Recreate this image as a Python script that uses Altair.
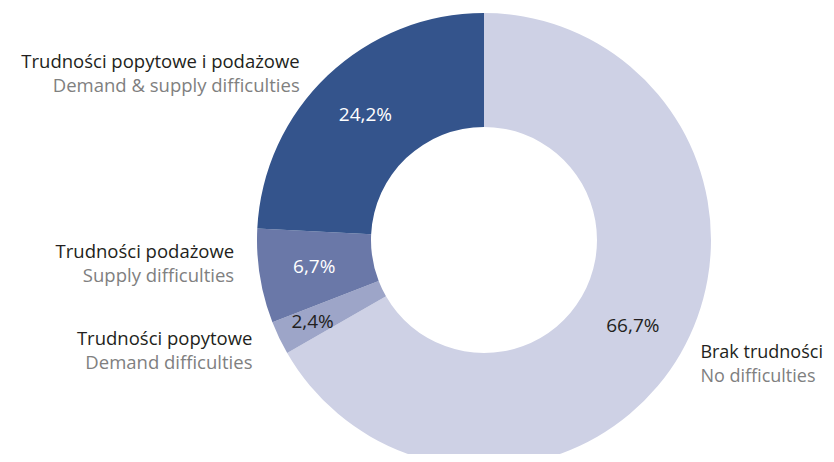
import altair as alt
import pandas as pd

# Data (clockwise from 12 o'clock)
labels_pl = ["Brak trudności", "Trudności popytowe", "Trudności podażowe", "Trudności popytowe i podażowe"]
labels_en = ["No difficulties", "Demand difficulties", "Supply difficulties", "Demand & supply difficulties"]
values = [66.7, 2.4, 6.7, 24.2]
pct_text = ["66,7%", "2,4%", "6,7%", "24,2%"]
order_idx = [0, 1, 2, 3]

colors = ["#CED1E5", "#9DA5C8", "#6A78A8", "#34548C"]

df = pd.DataFrame({
    "pl": labels_pl,
    "en": labels_en,
    "value": values,
    "pct": pct_text,
    "idx": order_idx,
})

FONT = "Open Sans"
CX, CY = 476, 232
R_OUT, R_IN = 227, 113

theta_scale = alt.Scale(domain=[0, 100], zero=True)

base = alt.Chart(df).transform_window(
    cum="sum(value)", sort=[alt.SortField("idx")], frame=[None, 0]
).transform_calculate(
    start="datum.cum - datum.value",
    mid="datum.cum - datum.value / 2",
).encode(
    x=alt.value(CX),
    y=alt.value(CY),
)

arcs = base.mark_arc(outerRadius=R_OUT, innerRadius=R_IN).encode(
    theta=alt.Theta("start:Q", scale=theta_scale, stack=None),
    theta2="cum:Q",
    color=alt.Color("en:N", scale=alt.Scale(domain=labels_en, range=colors), legend=None),
)

mid_theta = alt.Theta("mid:Q", scale=theta_scale, stack=None)

pct_big = base.transform_filter("datum.value >= 5").mark_text(
    radius=172, fontSize=19, font=FONT
).encode(
    theta=mid_theta,
    text="pct:N",
    color=alt.condition("datum.value > 5 && datum.value < 50", alt.value("#ffffff"), alt.value("#231f20")),
)

pct_small = base.transform_filter("datum.value < 5").mark_text(
    radius=190, fontSize=19, font=FONT, color="#231f20"
).encode(
    theta=mid_theta,
    text="pct:N",
)


def cat_label(name, align, dx, dy, size=18.5):
    sub = base.transform_filter(alt.datum.en == name)
    l1 = sub.mark_text(radius=250, align=align, baseline="alphabetic", dx=dx, dy=dy,
                       fontSize=size, font=FONT, color="#231f20").encode(theta=mid_theta, text="pl:N")
    l2 = sub.mark_text(radius=250, align=align, baseline="alphabetic", dx=dx, dy=dy + 24,
                       fontSize=size, font=FONT, color="#808080").encode(theta=mid_theta, text="en:N")
    return [l1, l2]


label_layers = []
label_layers += cat_label("No difficulties", "left", 0, -7, 18)
label_layers += cat_label("Demand difficulties", "right", -6, -3)
label_layers += cat_label("Supply difficulties", "right", -3, -22)
label_layers += cat_label("Demand & supply difficulties", "right", -12, 9)

chart = alt.layer(arcs, pct_big, pct_small, *label_layers).properties(
    width=818, height=446, padding=0, autosize=alt.AutoSizeParams(type="none")
).configure_view(stroke=None)

chart.save("out.html", embed_options={"renderer": "svg", "actions": False})
